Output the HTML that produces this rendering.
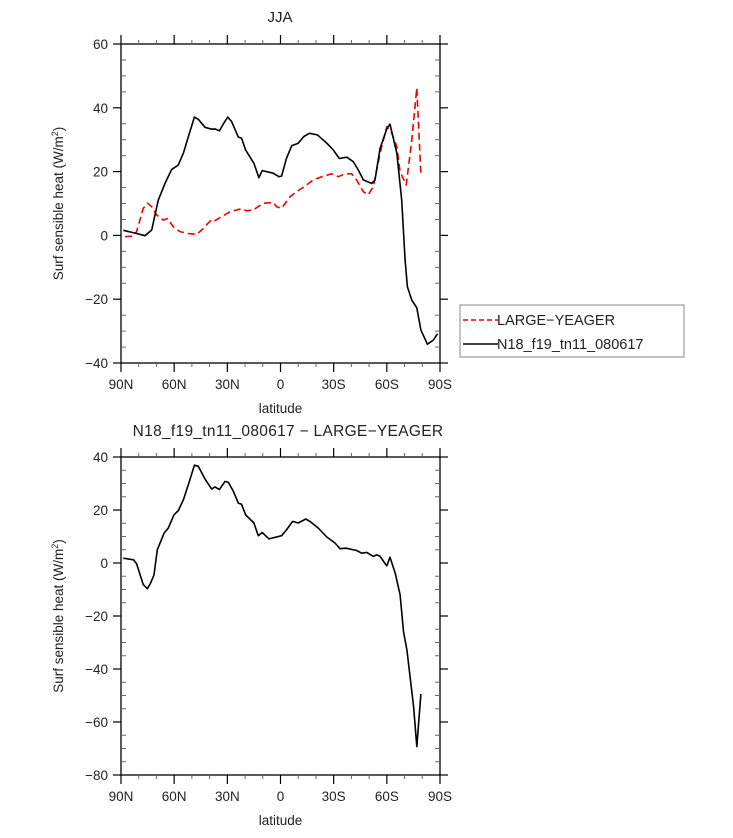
<!DOCTYPE html>
<html><head><meta charset="utf-8"><style>
body{margin:0;background:#fff;}
svg text{font-family:"Liberation Sans",sans-serif;fill:#222;}
</style></head><body>
<svg id="c" width="733" height="833" viewBox="0 0 733 833" xmlns="http://www.w3.org/2000/svg"></svg>
<script>
const xTickLabels=["90N","60N","30N","0","30S","60S","90S"];
const xTickLats=[90,60,30,0,-30,-60,-90];
const topYTicks=[60,40,20,0,-20,-40];
const botYTicks=[40,20,0,-20,-40,-60,-80];
const blackLat=[88.7,81.2,76.5,72.7,69,65.2,61.4,57.7,54.8,51.4,48.6,46.4,42.6,38.8,37,34.5,32.3,29.8,27.6,23.8,22,19.7,15,12.2,10.3,7.8,4.1,0.9,-0.6,-3.4,-6.3,-10,-13.2,-16.3,-20.8,-26.1,-29.8,-33.2,-37.4,-41.1,-43.9,-46.7,-51.4,-53.3,-56.2,-60,-61.8,-65.6,-68.4,-70.3,-71.6,-74.1,-76.9,-79.2,-82.9,-86.3,-88.6];
const blackVal=[1.6,0.6,-0.1,1.7,11,16.3,20.7,22,25.8,32,37.1,36.4,33.9,33.3,33.4,32.8,34.9,37.1,35.7,30.8,30.5,26.8,22.6,18.1,20.3,20,19.5,18.4,18.6,24.2,28.1,28.9,31,32,31.5,28.9,26.8,24.1,24.5,23.1,20.5,17.4,16.3,17.4,27.3,33.4,34.9,25.8,11.1,-7.7,-16.1,-20.3,-22.7,-29.7,-34.1,-32.8,-30.8];
const redLat=[87.7,83,81.2,77.4,75,72.7,69.9,66.1,63.7,60.5,56.7,52,47.3,44.5,38.8,37,33.2,28.5,21.9,19.1,15.3,9.7,4.1,2.2,-0.6,-5.3,-11,-14.7,-18.5,-23.2,-28.9,-32.6,-36.4,-40.1,-42.9,-46.7,-49.5,-52.4,-56.2,-60,-62.8,-65.6,-67.5,-70.9,-74.1,-76.9,-79.2];
const redVal=[-0.4,-0.2,1.2,8.5,10.1,9,6.4,4.8,5.3,2.7,1.2,0.6,0.3,1.7,5,4.6,5.9,7.4,8.4,7.7,8,10.1,10.3,9,8.5,12.1,14.4,15.8,17.4,18.4,19.3,18.4,19.3,19.3,17.4,13.7,12.7,15.3,25.8,34.1,32,27.8,20,15.8,29.9,46.2,19];
const diffLat=[88.7,83,81.2,77.4,75.1,73.3,71.4,69.5,65.7,63.3,60.1,57.6,54.8,51.4,48.6,46.4,42.6,38.8,37,34.5,31.3,29.4,26.6,23.8,22,19.7,15,12.5,10.3,6.5,-0.6,-3.4,-6.8,-10,-14.3,-16.6,-21.3,-26.1,-30.8,-33.6,-37,-43,-45.8,-48.7,-52.4,-54.3,-56.2,-60,-61.8,-64.7,-67.5,-69.4,-71.3,-75.1,-76.9,-79.2];
const diffVal=[1.8,1.2,-0.3,-8.2,-9.7,-7.6,-4.5,5,11.3,13.2,18.2,19.8,23.9,30.8,36.9,36.5,31.7,27.9,28.7,27.7,30.8,30.4,27,22.6,22.2,18.2,15.1,10.3,11.5,9.1,10.3,12.5,15.7,15.1,16.6,15.7,13.2,9.8,7.5,5.4,5.6,4.7,3.7,4,2.5,3.1,2.5,-1.1,2.2,-3.8,-12,-25.9,-32.8,-54.2,-69.3,-49.4];

const svg=document.getElementById('c');
const NS='http://www.w3.org/2000/svg';
function mk(tag,attrs,parent){const e=document.createElementNS(NS,tag);for(const k in attrs)e.setAttribute(k,attrs[k]);(parent||svg).appendChild(e);return e;}
const L=121,R=440;
function xS(lat){return L+(90-lat)/180*(R-L);}

function panel(top,bot,ymax,ymin,yticks,name){
  const g=mk('g',{});
  
  
  const yS=v=>top+(ymax-v)/(ymax-ymin)*(bot-top);
  mk('rect',{x:L,y:top,width:R-L,height:bot-top,fill:'none',stroke:'#000','stroke-width':1.3},g);
  // y ticks
  const step=(yticks[0]-yticks[1]);
  for(let v=ymin;v<=ymax+0.001;v+=step/4){
    const y=yS(v);const major=Math.abs((v-ymin)%step)<0.01;
    if(major){mk('line',{x1:L-8,x2:L,y1:y,y2:y,stroke:'#000','stroke-width':1.2},g);mk('line',{x1:R,x2:R+8,y1:y,y2:y,stroke:'#000','stroke-width':1.2},g);}
    else{mk('line',{x1:L,x2:L+5,y1:y,y2:y,stroke:'#666'},g);mk('line',{x1:R-5,x2:R,y1:y,y2:y,stroke:'#666'},g);}
  }
  yticks.forEach(v=>{const t=mk('text',{x:L-13,y:yS(v)+5,'text-anchor':'end','font-size':13.5},g);t.textContent=String(v).replace('-','\u2212');
    
    });
  for(let lat=90;lat>=-90;lat-=10){
    const x=xS(lat);const major=lat%30===0;
    mk('line',{x1:x,x2:x,y1:bot,y2:bot+(major?9:4),stroke:major?'#000':'#666','stroke-width':major?1.2:1},g);
    mk('line',{x1:x,x2:x,y1:top,y2:top-(major?9:4),stroke:major?'#000':'#666','stroke-width':major?1.2:1},g);
  }
  xTickLats.forEach((lat,i)=>{const t=mk('text',{x:xS(lat),y:bot+26,'text-anchor':'middle','font-size':13.5},g);t.textContent=xTickLabels[i];
    
    });
  const xt=mk('text',{x:(L+R)/2,y:bot+50,'text-anchor':'middle','font-size':13.5},g);xt.textContent='latitude';
  
  
  const cy=(top+bot)/2;
  const yt=mk('text',{x:0,y:0,transform:`translate(63,${cy}) rotate(-90)`,'text-anchor':'middle','font-size':13.5},g);
  yt.innerHTML='Surf sensible heat (W/m<tspan dy="-5" font-size="9">2</tspan><tspan dy="5">)</tspan>';
  
  
  return yS;
}
function line(lats,vals,yS,color,dash,name){
  const d=lats.map((la,i)=>(i?'L':'M')+xS(la).toFixed(1)+','+yS(vals[i]).toFixed(1)).join(' ');
  const p=mk('path',{d:d,fill:'none',stroke:color,'stroke-width':1.6,'stroke-dasharray':dash||'none','stroke-linejoin':'round'});
  
  
}
const y1=panel(44,363,60,-40,topYTicks,'top-panel');
line(redLat,redVal,y1,'#e00','7,4','series-large-yeager');
line(blackLat,blackVal,y1,'#000',null,'series-n18');
const y2=panel(457,775,40,-80,botYTicks,'bottom-panel');
line(diffLat,diffVal,y2,'#000',null,'series-difference');

const t1=mk('text',{x:280,y:22,'text-anchor':'middle','font-size':15});t1.textContent='JJA';


const t2=mk('text',{x:288,y:436,'text-anchor':'middle','font-size':15.5,'letter-spacing':'0.3'});t2.textContent='N18_f19_tn11_080617 \u2212 LARGE\u2212YEAGER';



const lg=mk('g',{});


mk('rect',{x:460,y:305,width:224,height:52,fill:'#fff',stroke:'#888','stroke-width':1},lg);
mk('line',{x1:463,x2:498,y1:320,y2:320,stroke:'#e00','stroke-width':1.5,'stroke-dasharray':'5,3'},lg);
mk('line',{x1:463,x2:498,y1:344,y2:344,stroke:'#000','stroke-width':1.5},lg);
const l1=mk('text',{x:497,y:325,'font-size':14.5,fill:'#444'},lg);l1.textContent='LARGE\u2212YEAGER';


const l2=mk('text',{x:497,y:349,'font-size':14.5,fill:'#444'},lg);l2.textContent='N18_f19_tn11_080617';


</script>
</body></html>
